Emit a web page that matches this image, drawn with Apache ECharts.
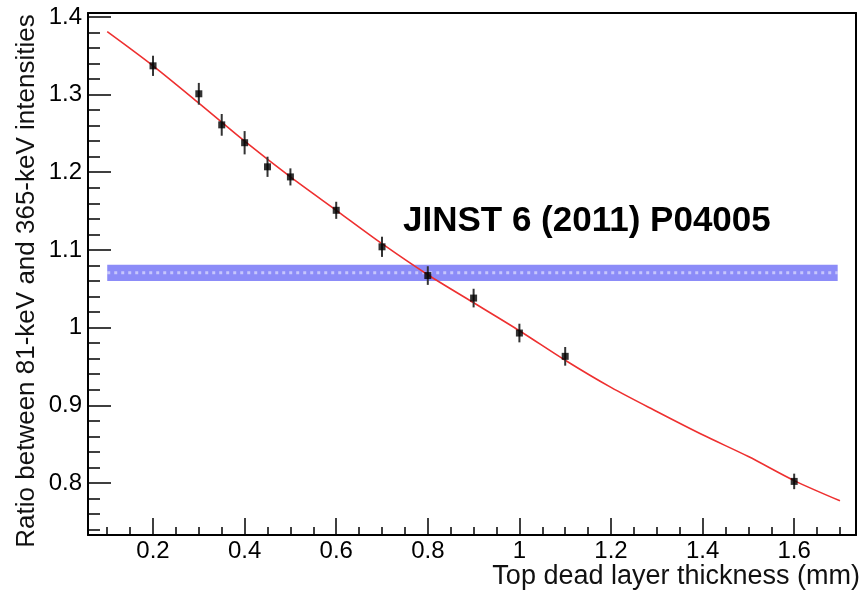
<!DOCTYPE html>
<html>
<head>
<meta charset="utf-8">
<script src="https://cdn.jsdelivr.net/npm/echarts@6/dist/echarts.min.js"></script>
<style>html,body{margin:0;padding:0;background:#fff;}#c{width:864px;height:593px;}</style>
</head>
<body>
<div id="c"></div>
<script>
// ---- data ----
const pointX = [0.2, 0.3, 0.35, 0.4, 0.45, 0.5, 0.6, 0.7, 0.8, 0.9, 1.0, 1.1, 1.6];
const pointY = [1.337, 1.301, 1.261, 1.238, 1.207, 1.194, 1.151, 1.104, 1.067, 1.038, 0.993, 0.963, 0.802];
const pointErr = [0.013, 0.014, 0.014, 0.015, 0.013, 0.011, 0.011, 0.013, 0.012, 0.012, 0.012, 0.012, 0.010];
const fitX = [0.1, 0.2, 0.3, 0.4, 0.5, 0.6, 0.7, 0.8, 0.9, 1.0, 1.1, 1.2, 1.3, 1.4, 1.5, 1.6, 1.7];
const fitY = [1.381, 1.337, 1.289, 1.240, 1.194, 1.151, 1.108, 1.068, 1.032, 0.996, 0.958, 0.923, 0.892, 0.862, 0.834, 0.803, 0.777];
const bandX = [0.1, 1.695];
const bandY = [1.060, 1.081];
const xMajorTicks = [0.2, 0.4, 0.6, 0.8, 1.0, 1.2, 1.4, 1.6];
const xMinorTicks = [0.1, 0.15, 0.25, 0.3, 0.35, 0.45, 0.5, 0.55, 0.65, 0.7, 0.75, 0.85, 0.9, 0.95, 1.05, 1.1, 1.15, 1.25, 1.3, 1.35, 1.45, 1.5, 1.55, 1.65, 1.7];
const yMajorTicks = [0.8, 0.9, 1.0, 1.1, 1.2, 1.3, 1.4];
const yMinorTicks = [0.74, 0.76, 0.78, 0.82, 0.84, 0.86, 0.88, 0.92, 0.94, 0.96, 0.98, 1.02, 1.04, 1.06, 1.08, 1.12, 1.14, 1.16, 1.18, 1.22, 1.24, 1.26, 1.28, 1.32, 1.34, 1.36, 1.38];
const xTitle = 'Top dead layer thickness (mm)';
const yTitle = 'Ratio between 81-keV and 365-keV intensities';
const noteText = 'JINST 6 (2011) P04005';

const X_MIN = 0.058, X_MAX = 1.735, Y_MIN = 0.733, Y_MAX = 1.405;
const FONT = 'Liberation Sans, Arial, Helvetica, sans-serif';

const chart = echarts.init(document.getElementById('c'), null, {renderer: 'canvas'});

const baseX = {type: 'value', min: X_MIN, max: X_MAX, gridIndex: 0, splitLine: {show: false}};
const baseY = {type: 'value', min: Y_MIN, max: Y_MAX, gridIndex: 0, splitLine: {show: false}};

const option = {
  animation: false,
  backgroundColor: '#fff',
  grid: {left: 88, top: 13, right: 8, bottom: 58, containLabel: false},
  xAxis: [
    Object.assign({}, baseX, {
      position: 'bottom',
      axisLine: {show: true, onZero: false, lineStyle: {color: '#000', width: 2}},
      axisTick: {show: true, inside: true, length: 17, customValues: xMajorTicks, lineStyle: {color: '#000', width: 1.5}},
      axisLabel: {show: true, customValues: xMajorTicks, margin: 4, fontSize: 24, color: '#000', fontFamily: FONT}
    }),
    Object.assign({}, baseX, {
      position: 'bottom',
      axisLine: {show: false, onZero: false},
      axisTick: {show: true, inside: true, length: 8, customValues: xMinorTicks, lineStyle: {color: '#000', width: 1.5}},
      axisLabel: {show: false}
    }),
    Object.assign({}, baseX, {
      position: 'top',
      axisLine: {show: true, onZero: false, lineStyle: {color: '#000', width: 2}},
      axisTick: {show: false},
      axisLabel: {show: false}
    })
  ],
  yAxis: [
    Object.assign({}, baseY, {
      position: 'left',
      axisLine: {show: true, onZero: false, lineStyle: {color: '#000', width: 2}},
      axisTick: {show: true, inside: true, length: 23, customValues: yMajorTicks, lineStyle: {color: '#000', width: 1.5}},
      axisLabel: {show: true, customValues: yMajorTicks, margin: 6, fontSize: 24, color: '#000', fontFamily: FONT}
    }),
    Object.assign({}, baseY, {
      position: 'left',
      axisLine: {show: false, onZero: false},
      axisTick: {show: true, inside: true, length: 12, customValues: yMinorTicks, lineStyle: {color: '#000', width: 1.5}},
      axisLabel: {show: false}
    }),
    Object.assign({}, baseY, {
      position: 'right',
      axisLine: {show: true, onZero: false, lineStyle: {color: '#000', width: 2}},
      axisTick: {show: false},
      axisLabel: {show: false}
    })
  ],
  graphic: [
    {type: 'text', x: 860, y: 577, z: 10,
     style: {text: xTitle, fill: '#111', font: '27px ' + FONT, textAlign: 'right', textVerticalAlign: 'middle'}},
    {type: 'text', x: 27, y: 281, rotation: Math.PI / 2, z: 10,
     style: {text: yTitle, fill: '#111', font: '26px ' + FONT, textAlign: 'center', textVerticalAlign: 'middle'}},
    {type: 'text', x: 403, y: 221, z: 10,
     style: {text: noteText, fill: '#000', font: 'bold 35px ' + FONT, textAlign: 'left', textVerticalAlign: 'middle'}}
  ],
  series: [
    {
      name: 'band', type: 'line', xAxisIndex: 0, yAxisIndex: 0, z: 1,
      data: [[bandX[0], (bandY[0] + bandY[1]) / 2], [bandX[1], (bandY[0] + bandY[1]) / 2]],
      showSymbol: false, silent: true,
      lineStyle: {color: 'rgba(255,255,255,0.5)', width: 3, type: [3, 4]},
      markArea: {
        silent: true,
        itemStyle: {color: '#8c8cf8', opacity: 1},
        data: [[{xAxis: bandX[0], yAxis: bandY[0]}, {xAxis: bandX[1], yAxis: bandY[1]}]]
      }
    },
    {
      name: 'fit', type: 'line', xAxisIndex: 0, yAxisIndex: 0, z: 3,
      data: fitX.map((x, i) => [x, fitY[i]]),
      smooth: 0.3, showSymbol: false,
      lineStyle: {color: '#ee3030', width: 1.6}
    },
    {
      name: 'errors', type: 'custom', xAxisIndex: 0, yAxisIndex: 0, z: 4,
      data: pointX.map((x, i) => [x, pointY[i] - pointErr[i], pointY[i] + pointErr[i]]),
      renderItem: function (params, api) {
        const lo = api.coord([api.value(0), api.value(1)]);
        const hi = api.coord([api.value(0), api.value(2)]);
        return {type: 'line', shape: {x1: lo[0], y1: lo[1], x2: hi[0], y2: hi[1]},
                style: {stroke: '#333', lineWidth: 2}};
      }
    },
    {
      name: 'points', type: 'scatter', xAxisIndex: 0, yAxisIndex: 0, z: 5,
      data: pointX.map((x, i) => [x, pointY[i]]),
      symbol: 'rect', symbolSize: 7,
      itemStyle: {color: '#000'}
    }
  ]
};
chart.setOption(option);
</script>
</body>
</html>
